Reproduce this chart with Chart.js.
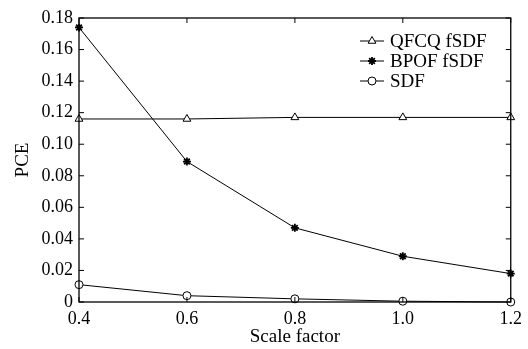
<!DOCTYPE html>
<html>
<head>
<meta charset="utf-8">
<script src="https://cdn.jsdelivr.net/npm/chart.js@4/dist/chart.umd.min.js"></script>
<style>
html,body{margin:0;padding:0;background:#fff;}
#wrap{width:528px;height:349px;position:relative;}
</style>
</head>
<body>
<div id="wrap"><canvas id="c" width="528" height="349"></canvas></div>
<script>
const scaleFactors = [0.4, 0.6, 0.8, 1.0, 1.2];
const qfcqValues = [0.116, 0.116, 0.117, 0.117, 0.117];
const bpofValues = [0.174, 0.089, 0.047, 0.029, 0.018];
const sdfValues  = [0.011, 0.004, 0.002, 0.0005, 0.0];
const seriesNames = ['QFCQ fSDF', 'BPOF fSDF', 'SDF'];
const xTickLabels = ['0.4', '0.6', '0.8', '1.0', '1.2'];
const yTickLabels = ['0', '0.02', '0.04', '0.06', '0.08', '0.10', '0.12', '0.14', '0.16', '0.18'];

const FONT = '"Liberation Serif", "Times New Roman", serif';

function pts(vals){ return scaleFactors.map((x,i)=>({x:x, y:vals[i]})); }

const frameTicks = {
  id: 'frameTicks',
  afterDatasetsDraw(chart){
    const {ctx, chartArea:a, scales} = chart;
    ctx.save();
    ctx.strokeStyle = '#000';
    ctx.lineWidth = 1.3;
    ctx.strokeRect(a.left, a.top, a.right - a.left, a.bottom - a.top);
    ctx.lineWidth = 1;
    const L = 5;
    ctx.beginPath();
    scales.x.ticks.forEach(t => {
      const px = scales.x.getPixelForValue(t.value);
      ctx.moveTo(px, a.bottom); ctx.lineTo(px, a.bottom - L);
      ctx.moveTo(px, a.top); ctx.lineTo(px, a.top + L);
    });
    scales.y.ticks.forEach(t => {
      const py = scales.y.getPixelForValue(t.value);
      ctx.moveTo(a.left, py); ctx.lineTo(a.left + L, py);
      ctx.moveTo(a.right, py); ctx.lineTo(a.right - L, py);
    });
    ctx.stroke();
    ctx.restore();
  }
};

const innerLegend = {
  id: 'innerLegend',
  afterDraw(chart){
    const ctx = chart.ctx;
    ctx.save();
    const x0 = 360, x1 = 384, tx = 390;
    const ys = [41, 61, 81];
    chart.data.datasets.forEach((ds, i) => {
      const y = ys[i];
      ctx.strokeStyle = '#000';
      ctx.lineWidth = 1;
      ctx.beginPath(); ctx.moveTo(x0, y); ctx.lineTo(x1, y); ctx.stroke();
      ctx.fillStyle = ds.pointBackgroundColor;
      ctx.strokeStyle = '#000';
      ctx.lineWidth = ds.pointBorderWidth;
      Chart.helpers.drawPoint(ctx, {pointStyle: ds.pointStyle, radius: ds.pointRadius, rotation: 0, borderWidth: ds.pointBorderWidth}, (x0 + x1) / 2, y);
      ctx.fillStyle = '#000';
      ctx.font = '19px ' + FONT;
      ctx.textBaseline = 'middle';
      ctx.textAlign = 'left';
      ctx.fillText(ds.label, tx, y + 1);
    });
    ctx.restore();
  }
};

new Chart(document.getElementById('c'), {
  type: 'line',
  data: {
    datasets: [
      {label: seriesNames[0], data: pts(qfcqValues), borderColor:'#000', borderWidth:1, pointStyle:'triangle', pointRadius:4.5, pointBorderWidth:1, pointBackgroundColor:'#fff', pointBorderColor:'#000', clip:false},
      {label: seriesNames[1], data: pts(bpofValues), borderColor:'#000', borderWidth:1, pointStyle:'star', pointRadius:4, pointBorderWidth:1.8, pointBackgroundColor:'#000', pointBorderColor:'#000', clip:false},
      {label: seriesNames[2], data: pts(sdfValues), borderColor:'#000', borderWidth:1, pointStyle:'circle', pointRadius:4, pointBorderWidth:1, pointBackgroundColor:'#fff', pointBorderColor:'#000', clip:false}
    ]
  },
  options: {
    responsive: false,
    animation: false,
    layout: {autoPadding: false, padding: {left: 0, top: 18, right: 10, bottom: 0}},
    plugins: {legend: {display: false}, tooltip: {enabled: false}},
    elements: {line: {tension: 0}},
    scales: {
      x: {
        type: 'linear', min: 0.4, max: 1.2,
        grid: {display: false, drawTicks: false},
        border: {display: false},
        afterBuildTicks(s){ s.ticks = scaleFactors.map(v => ({value: v})); },
        afterFit(s){ s.height = 47; },
        ticks: {
          color: '#000', padding: 6, maxRotation: 0,
          font: {family: FONT, size: 18},
          callback: (v, i) => xTickLabels[i]
        },
        title: {display: true, text: 'Scale factor', color: '#000', font: {family: FONT, size: 19}, padding: {top: 0, bottom: 1}}
      },
      y: {
        min: 0, max: 0.18,
        grid: {display: false, drawTicks: false},
        border: {display: false},
        afterBuildTicks(s){ s.ticks = yTickLabels.map((t, i) => ({value: i * 0.02})); },
        afterFit(s){ s.width = 79; },
        ticks: {
          color: '#000', padding: 6,
          font: {family: FONT, size: 18},
          callback: (v, i) => yTickLabels[i]
        },
        title: {display: true, text: 'PCE', color: '#000', font: {family: FONT, size: 19}, padding: {top: 12, bottom: 0}}
      }
    }
  },
  plugins: [frameTicks, innerLegend]
});
</script>
</body>
</html>
